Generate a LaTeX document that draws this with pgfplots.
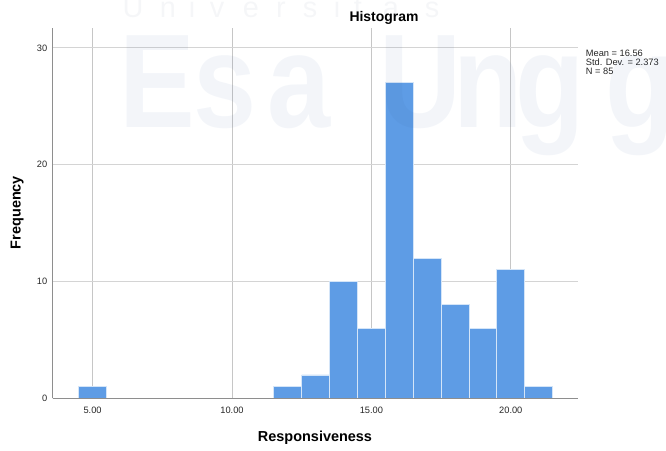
\documentclass[border=0pt]{standalone}
\usepackage{pgfplots}
\pgfplotsset{compat=1.18}
\usepackage{fontspec}
\setmainfont{Liberation Sans}

\definecolor{barblue}{HTML}{5E9CE5}
\definecolor{baredge}{HTML}{D4E5F8}
\definecolor{gridgray}{HTML}{D4D4D4}
\definecolor{vgridgray}{HTML}{C6C6C6}
\definecolor{axisgray}{HTML}{8E8E8E}
\definecolor{wmark}{rgb}{0.20,0.36,0.62}
\definecolor{wmarkgray}{rgb}{0.35,0.40,0.50}

\begin{document}
\begin{tikzpicture}
\path[use as bounding box] (0bp,0bp) rectangle (666bp,451bp);

\begin{axis}[
  at={(52.7bp,52.7bp)}, anchor=south west,
  scale only axis, width=525.3bp, height=370.3bp,
  xmin=3.57, xmax=22.41, ymin=0, ymax=31.7,
  axis x line*=bottom, axis y line*=left,
  axis line style={axisgray, line width=0.9bp, -},
  xtick={5,10,15,20}, xticklabels={5.00,10.00,15.00,20.00},
  ytick={0,10,20,30},
  major tick length=0pt,
  xmajorgrids, ymajorgrids,
  x grid style={vgridgray, line width=0.8bp},
  y grid style={gridgray, line width=0.9bp},
  tick label style={font=\fontsize{9.3}{10}\selectfont, text=black!85},
  /pgf/number format/assume math mode=true,
  xticklabel style={yshift=-5.4bp},
  yticklabel style={xshift=-2bp},
]
\addplot[ybar, bar width=1, bar shift=0pt, fill=barblue, draw=baredge, line width=0.8bp]
  coordinates {(5,1) (12,1) (13,2) (14,10) (15,6) (16,27) (17,12) (18,8) (19,6) (20,11) (21,1)};
% baseline redrawn over the bar feet
\draw[axisgray, line width=0.9bp] (rel axis cs:0,0) -- (rel axis cs:1,0);
\end{axis}

% titles and labels
\node[anchor=base, font=\fontsize{14}{16}\selectfont\bfseries] at (384bp,429.3bp) {Histogram};
\node[anchor=base, font=\fontsize{14.5}{16}\selectfont\bfseries] at (315bp,9.3bp) {Responsiveness};
\node[anchor=base, rotate=90, font=\fontsize{14.5}{16}\selectfont\bfseries] at (20.5bp,238.5bp) {Frequency};

% summary statistics
\node[anchor=north west, inner sep=0pt, align=left, font=\fontsize{9.3}{9.2}\selectfont, text=black!85]
  at (585.7bp,401bp) {Mean = 16.56\\Std. Dev. = 2.373\\N = 85};

% faint watermark
\begin{scope}[opacity=0.06, every node/.style={anchor=base, inner sep=0pt, text=wmark, xscale=0.85, font=\fontsize{134}{134}\selectfont\bfseries}]
\node at (157.5bp,323bp) {E};
\node at (225bp,323bp) {s};
\node at (299.5bp,323bp) {a};
\node at (420bp,323bp) {U};
\node at (488.5bp,323bp) {n};
\node at (550bp,323bp) {g};
\node at (640bp,323bp) {g};
\end{scope}
\begin{scope}[opacity=0.06, every node/.style={anchor=base, inner sep=0pt, text=wmarkgray, font=\fontsize{29}{29}\selectfont}]
\node at (133bp,433bp) {U};
\node at (168bp,433bp) {n};
\node at (192bp,433bp) {i};
\node at (217bp,433bp) {v};
\node at (251bp,433bp) {e};
\node at (281bp,433bp) {r};
\node at (310bp,433bp) {s};
\node at (337bp,433bp) {i};
\node at (358bp,433bp) {t};
\node at (391bp,433bp) {a};
\node at (432bp,433bp) {s};
\end{scope}
\end{tikzpicture}
\end{document}
